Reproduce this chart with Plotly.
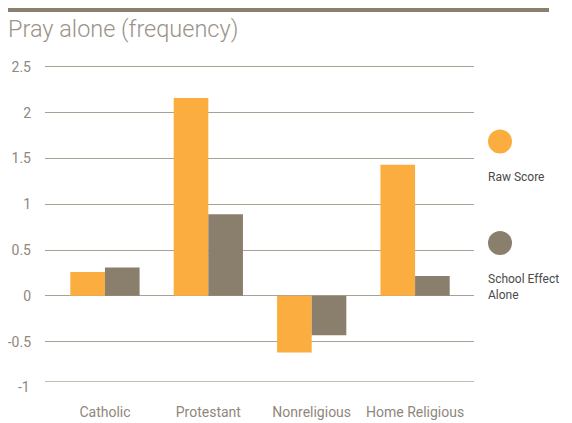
import plotly.graph_objects as go

categories = ["Catholic", "Protestant", "Nonreligious", "Home Religious"]
raw_score = [0.26, 2.16, -0.62, 1.43]
school_effect = [0.31, 0.89, -0.43, 0.215]
series_names = ["Raw Score", "School Effect<br>Alone"]
tick_vals = [-0.5, 0, 0.5, 1, 1.5, 2, 2.5]
tick_text = ["-0.5", "0", "0.5", "1", "1.5", "2", "2.5"]

ORANGE = "#FBAE3F"
GRAY = "#8A7F6D"
TXT = "#8f877b"
GRID = "#aaa195"

# the page body adds an 8px offset, so the figure is 8px smaller on each axis
W, H = 564, 415
L, R, T, B = 37, 98, 57, 42
PW, PH = W - L - R, H - T - B  # 429 x 316

fig = go.Figure()
fig.add_trace(go.Bar(x=categories, y=raw_score, name=series_names[0], marker_color=ORANGE, marker_line_width=0))
fig.add_trace(go.Bar(x=categories, y=school_effect, name=series_names[1], marker_color=GRAY, marker_line_width=0))

fig.update_layout(
    width=W, height=H,
    margin=dict(l=L, r=R, t=T, b=B, autoexpand=False),
    paper_bgcolor="white", plot_bgcolor="white",
    barmode="group", bargap=0.33, bargroupgap=0,
    showlegend=False,
    font=dict(family="Roboto", color=TXT, size=12),
)
fig.update_xaxes(range=[-0.58, 3.57], showgrid=False, showline=True, linecolor="#c2bbb0", linewidth=1,
                 tickfont=dict(size=14, color=TXT), ticklabelstandoff=18, ticks="", automargin=False)
fig.update_yaxes(range=[-0.93, 2.52], tickvals=tick_vals, ticktext=tick_text, showgrid=True, gridcolor=GRID,
                 gridwidth=1, zeroline=True, zerolinecolor=GRID, zerolinewidth=1,
                 tickfont=dict(size=14, color=TXT), ticklabelstandoff=13, ticks="", automargin=False)

# "-1" label below the axis line (y = -1 sits just outside the plotted range)
fig.add_annotation(x=0, xref="paper", y=-6.3 / PH, yref="paper", text="-1", showarrow=False,
                   xanchor="right", yanchor="middle", xshift=-13, font=dict(size=14, color=TXT))

# title and top rule
fig.add_shape(type="line", xref="paper", yref="paper", x0=-38 / PW, x1=504 / PW, y0=1 + 55 / PH, y1=1 + 55 / PH,
              line=dict(color="#8b8070", width=4))
fig.add_annotation(text="Pray alone (frequency)", xref="paper", yref="paper", x=-39 / PW, y=1 + 36 / PH,
                   xanchor="left", yanchor="middle", showarrow=False,
                   font=dict(size=23.5, color="#9a9388", family="Roboto", weight=300))

# custom legend
legend_items = [(series_names[0], ORANGE, 141.5, 177), (series_names[1], GRAY, 243, 287)]
for name, color, cy, ty in legend_items:
    cyp = (381 - cy) / PH
    fig.add_shape(type="circle", xref="paper", yref="paper",
                  x0=(488 - 45) / PW, x1=(512 - 45) / PW,
                  y0=cyp - 12 / PH, y1=cyp + 12 / PH,
                  fillcolor=color, line_width=0)
    fig.add_annotation(text=name, xref="paper", yref="paper", x=(486 - 45) / PW, y=(381 - ty) / PH,
                       xanchor="left", yanchor="middle", align="left", showarrow=False,
                       font=dict(size=12, color="#4a4a4a"))

fig.write_html("out.html")
